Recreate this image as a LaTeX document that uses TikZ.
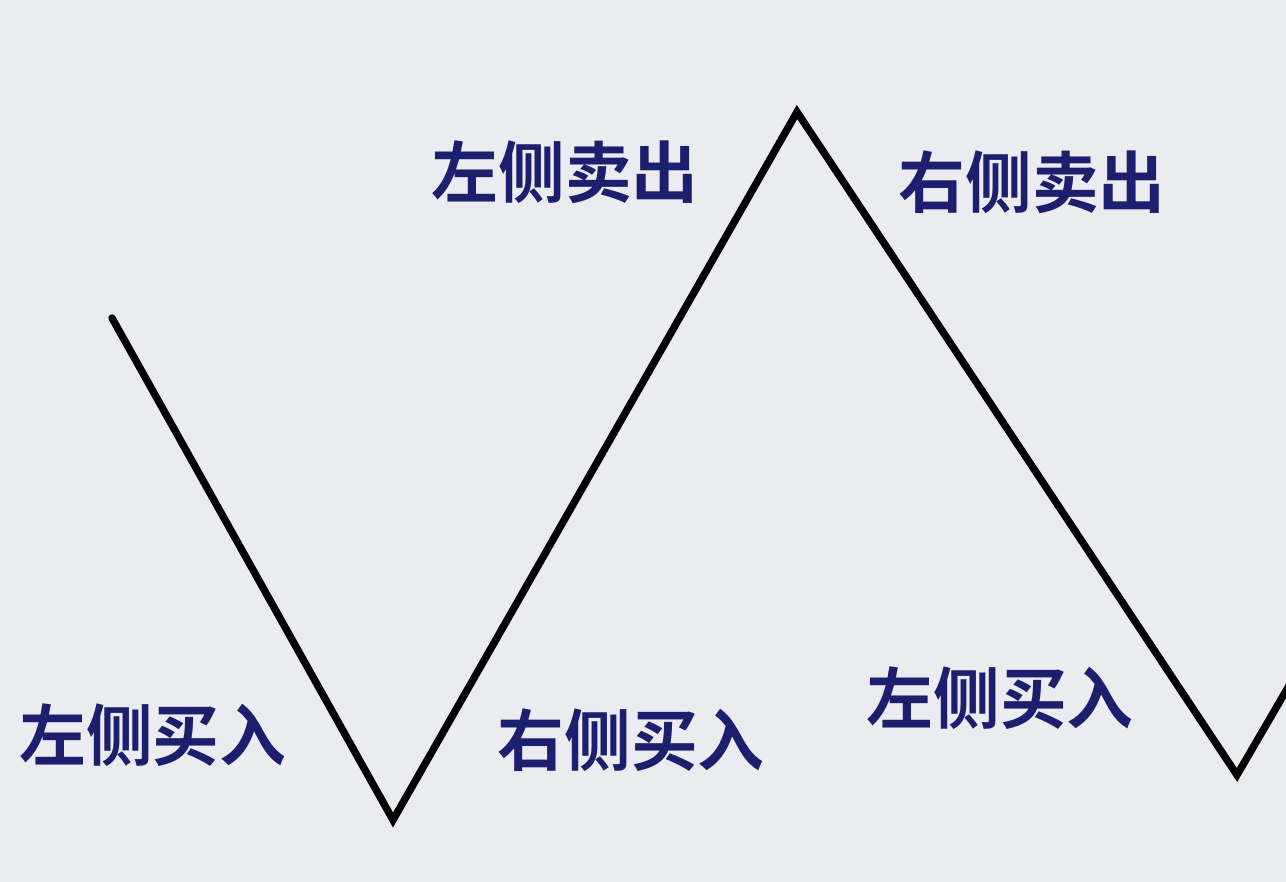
\documentclass[tikz,border=0pt]{standalone}
\usepackage{fontspec}
\newfontfamily\cjk{Noto Sans CJK SC Bold}
\definecolor{bg}{RGB}{235,236,240}
\definecolor{txt}{RGB}{28,30,110}
\begin{document}
\begin{tikzpicture}[x=0.02cm,y=-0.02cm,
  lbl/.style={font=\cjk\fontsize{38}{40}\selectfont, text=txt, inner sep=0pt}]
\fill[bg] (0,0) rectangle (1286,882);
\useasboundingbox (0,0) rectangle (1286,882);
\coordinate (p0) at (112,318);
\coordinate (p1) at (393,820);
\coordinate (p2) at (797,112);
\coordinate (p3) at (1237,775);
\coordinate (p4) at (1290,684);
\draw[line width=4.2pt, line join=miter, line cap=round] (p0) -- (p1) -- (p2) -- (p3) -- (p4);
\node[lbl] (a) at (565,172) {左侧卖出};
\node[lbl] (b) at (1032,182) {右侧卖出};
\node[lbl] (c) at (153,735) {左侧买入};
\node[lbl] (d) at (631,740) {右侧买入};
\node[lbl] (e) at (1000,698) {左侧买入};
\end{tikzpicture}
\end{document}
